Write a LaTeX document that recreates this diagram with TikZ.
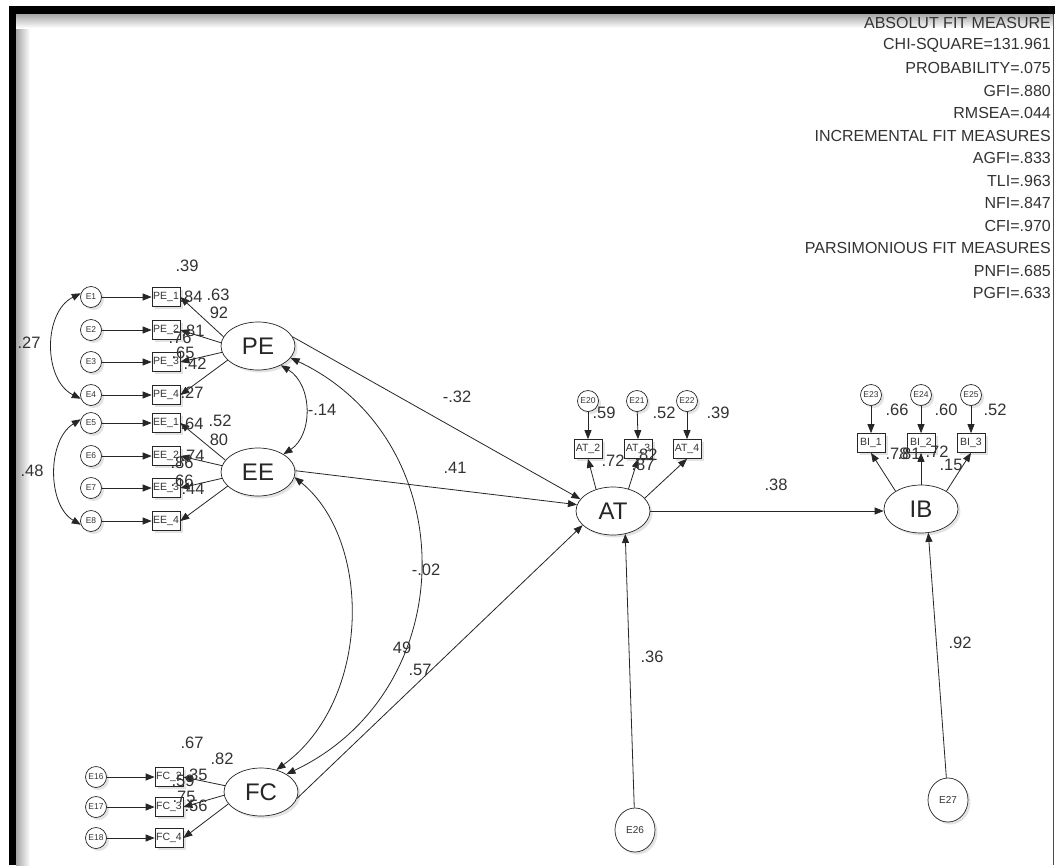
\documentclass[tikz,border=0pt]{standalone}
\usepackage{fontspec}
\setmainfont{Liberation Sans}
\usetikzlibrary{arrows.meta,shapes.geometric,shadows}
\begin{document}
\begin{tikzpicture}[x=1pt,y=-1pt,
  every node/.style={inner sep=0pt},
  shd/.style={drop shadow={opacity=0.22,shadow xshift=2.5pt,shadow yshift=-2.5pt}},
  lat/.style={draw=black!85, line width=0.7pt, ellipse, fill=white, shd, minimum width=74pt, minimum height=48pt, font=\fontsize{24}{24}\selectfont, text=black!85},
  obs/.style={draw=black!85, line width=0.7pt, rectangle, fill=white, shd, minimum width=28pt, minimum height=19pt, font=\fontsize{10.5}{10.5}\selectfont, text=black!80},
  err/.style={draw=black!85, line width=0.7pt, circle, fill=white, shd, minimum size=21pt, font=\fontsize{8.5}{8.5}\selectfont, text=black!80},
  bigerr/.style={draw=black!85, line width=0.7pt, ellipse, fill=white, shd, minimum width=40pt, minimum height=44pt, font=\fontsize{10}{10}\selectfont, text=black!80},
  lab/.style={font=\fontsize{16.5}{16.5}\selectfont, text=black!80},
  fit/.style={font=\fontsize{16}{16}\selectfont, anchor=east, text=black!80},
  arr/.style={draw=black!85, line width=0.8pt, -{Triangle[length=9pt,width=7pt]}},
  cov/.style={draw=black!85, line width=0.8pt, {Triangle[length=9pt,width=7pt]}-{Triangle[length=9pt,width=7pt]}},
]
\useasboundingbox (0,0) rectangle (1055,865);
\fill[white] (0,0) rectangle (1055,865);
% frame
\shade[left color=black!35, right color=white] (16,14) rectangle (30,865);
\shade[top color=black!35, bottom color=white] (16,14) rectangle (1053,28);
\fill[black] (9,6) rectangle (1055,14);
\fill[black] (9,6) rectangle (16,865);
\draw[black!70, line width=0.8pt] (1053,14) -- (1053,865);

% fit measures
\node[fit] (f1) at (1051,23) {ABSOLUT FIT MEASURE};
\node[fit] (f2) at (1051,45.5) {CHI-SQUARE=131.961};
\node[fit] (f3) at (1051,68) {PROBABILITY=.075};
\node[fit] (f4) at (1051,90.5) {GFI=.880};
\node[fit] (f5) at (1051,113) {RMSEA=.044};
\node[fit] (f6) at (1051,135.5) {INCREMENTAL FIT MEASURES};
\node[fit] (f7) at (1051,158) {AGFI=.833};
\node[fit] (f8) at (1051,180.5) {TLI=.963};
\node[fit] (f9) at (1051,203) {NFI=.847};
\node[fit] (f10) at (1051,225.5) {CFI=.970};
\node[fit] (f11) at (1051,248) {PARSIMONIOUS FIT MEASURES};
\node[fit] (f12) at (1051,270.5) {PNFI=.685};
\node[fit] (f13) at (1051,293) {PGFI=.633};

% latent variables
\node[lat] (PE) at (258,346) {PE};
\node[lat] (EE) at (258,472) {EE};
\node[lat] (FC) at (261,792) {FC};
\node[lat] (AT) at (613,511) {AT};
\node[lat] (IB) at (921,509) {IB};

% PE / EE indicators
\foreach \n/\lbl/\y in {e1/E1/297, e2/E2/330, e3/E3/362, e4/E4/395, e5/E5/423, e6/E6/456, e7/E7/488, e8/E8/521}
  \node[err] (\n) at (91,\y) {\lbl};
\foreach \n/\lbl/\y in {pe1/PE\_1/297, pe2/PE\_2/330, pe3/PE\_3/362, pe4/PE\_4/395, ee1/EE\_1/423, ee2/EE\_2/456, ee3/EE\_3/488, ee4/EE\_4/521}
  \node[obs] (\n) at (166,\y) {\lbl};
% FC indicators
\foreach \n/\lbl/\y in {e16/E16/777, e17/E17/807, e18/E18/838}
  \node[err] (\n) at (96,\y) {\lbl};
\foreach \n/\lbl/\y in {fc2/FC\_2/777, fc3/FC\_3/807, fc4/FC\_4/838}
  \node[obs] (\n) at (169,\y) {\lbl};
% AT indicators
\node[obs] (at2) at (588,449) {AT\_2};
\node[obs] (at3) at (638,449) {AT\_3};
\node[obs] (at4) at (687,449) {AT\_4};
\node[err] (e20) at (588,401) {E20};
\node[err] (e21) at (637,401) {E21};
\node[err] (e22) at (687,401) {E22};
% IB indicators
\node[obs] (bi1) at (871,443) {BI\_1};
\node[obs] (bi2) at (921,443) {BI\_2};
\node[obs] (bi3) at (971,443) {BI\_3};
\node[err] (e23) at (871,395) {E23};
\node[err] (e24) at (921,395) {E24};
\node[err] (e25) at (971,395) {E25};
% disturbances
\node[bigerr] (e26) at (635,830) {E26};
\node[bigerr] (e27) at (948,800) {E27};

% error arrows
\foreach \a/\b in {e1/pe1,e2/pe2,e3/pe3,e4/pe4,e5/ee1,e6/ee2,e7/ee3,e8/ee4,e16/fc2,e17/fc3,e18/fc4}
  \draw[arr] (\a) -- (\b);
\foreach \a/\b in {e20/at2,e21/at3,e22/at4,e23/bi1,e24/bi2,e25/bi3}
  \draw[arr] (\a) -- (\b.north);

% loadings
\draw[arr] (PE.165) -- (pe1.east);
\draw[arr] (PE.175) -- (pe2.east);
\draw[arr] (PE.190) -- (pe3.east);
\draw[arr] (PE.205) -- (pe4.east);
\draw[arr] (EE.160) -- (ee1.east);
\draw[arr] (EE.170) -- (ee2.east);
\draw[arr] (EE.190) -- (ee3.east);
\draw[arr] (EE.205) -- (ee4.east);
\draw[arr] (FC.170) -- (fc2.east);
\draw[arr] (FC.185) -- (fc3.east);
\draw[arr] (FC.200) -- (fc4.east);
\draw[arr] (AT.128) -- (at2.south);
\draw[arr] (AT.55) -- (at3.south);
\draw[arr] (AT.22) -- (at4.south);
\draw[arr] (IB.145) -- (bi1.south);
\draw[arr] (IB.90) -- (bi2.south);
\draw[arr] (IB.35) -- (bi3.south);

% covariances
\draw[cov] (e1.160) .. controls (43,312) and (43,380) .. (e4.200);
\draw[cov] (e5.160) .. controls (47,440) and (47,505) .. (e8.200);
\draw[cov] (PE.320) .. controls (313,385) and (313,435) .. (EE.35);
\draw[cov] (PE.340) .. controls (464,440) and (464,690) .. (FC.35);
\draw[cov] (EE.352) .. controls (372,540) and (372,700) .. (FC.55);

% structural paths
\draw[arr] (PE.15) -- (AT.160);
\draw[arr] (EE.2) -- (AT.170);
\draw[arr] (FC.350) -- (AT.205);
\draw[arr] (AT.east) -- (AT.east -| IB.west);
\draw[arr] (e26) -- (AT.298);
\draw[arr] (e27) -- (IB.287);

% labels
\node[lab] (l1) at (29,343) {.27};
\node[lab] (l2) at (32,471) {.48};
\node[lab] (l3) at (187,266) {.39};
\node[lab] (l4) at (191,297) {.84};
\node[lab] (l5) at (218,295) {.63};
\node[lab] (l6) at (219,313) {92};
\node[lab] (l7) at (193,331) {.81};
\node[lab] (l8) at (180,338) {.76};
\node[lab] (l9) at (183,353) {.65};
\node[lab] (l10) at (195,364) {.42};
\node[lab] (l11) at (192,393) {.27};
\node[lab] (l12) at (192,424) {.64};
\node[lab] (l13) at (220,421) {.52};
\node[lab] (l14) at (219,440) {80};
\node[lab] (l15) at (193,456) {.74};
\node[lab] (l16) at (182,463) {.86};
\node[lab] (l17) at (182,481) {.66};
\node[lab] (l18) at (193,489) {.44};
\node[lab] (l19) at (192,743) {.67};
\node[lab] (l20) at (222,759) {.82};
\node[lab] (l21) at (196,775) {.35};
\node[lab] (l22) at (183,781) {.59};
\node[lab] (l23) at (184,797) {.75};
\node[lab] (l24) at (196,806) {.56};
\node[lab] (l25) at (604,413) {.59};
\node[lab] (l26) at (664,413) {.52};
\node[lab] (l27) at (718,413) {.39};
\node[lab] (l28) at (613,461) {.72};
\node[lab] (l29) at (646,455) {.82};
\node[lab] (l30) at (643,465) {.87};
\node[lab] (l31) at (897,410) {.66};
\node[lab] (l32) at (946,410) {.60};
\node[lab] (l33) at (995,410) {.52};
\node[lab] (l34) at (897,454) {.78};
\node[lab] (l35) at (909,454) {.81};
\node[lab] (l36) at (937,452) {.72};
\node[lab] (l37) at (951,465) {.15};
\node[lab] (l38) at (457,397) {-.32};
\node[lab] (l39) at (455,468) {.41};
\node[lab] (l40) at (322,410) {-.14};
\node[lab] (l41) at (426,570) {-.02};
\node[lab] (l42) at (402,648) {49};
\node[lab] (l43) at (420,670) {.57};
\node[lab] (l44) at (652,657) {.36};
\node[lab] (l45) at (960,643) {.92};
\node[lab] (l46) at (776,485) {.38};
\end{tikzpicture}
\end{document}
